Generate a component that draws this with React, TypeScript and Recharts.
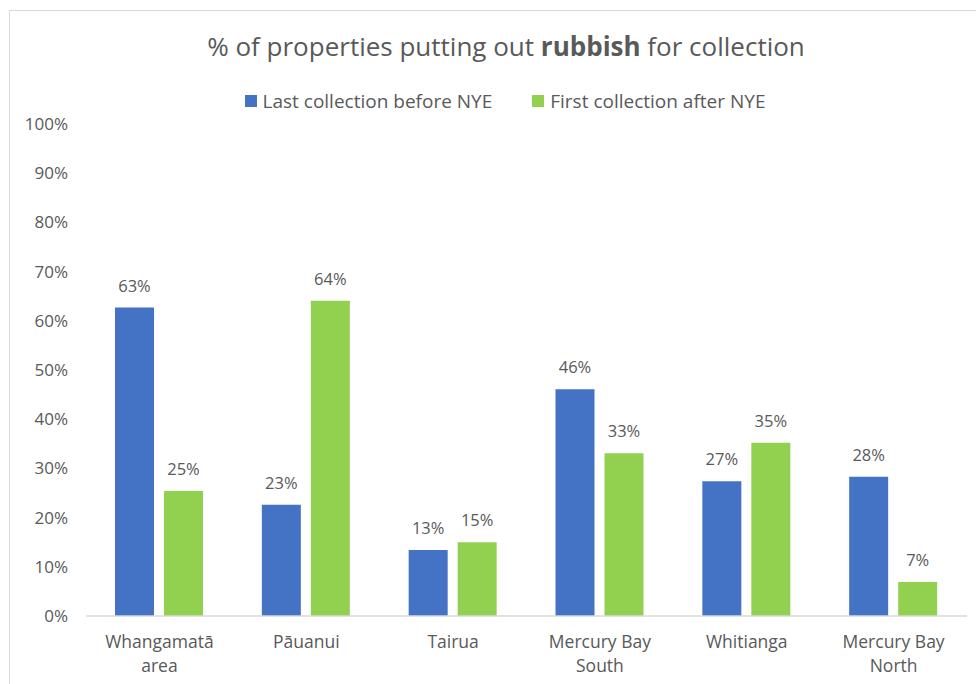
import { BarChart, Bar, XAxis, YAxis, LabelList } from 'recharts';

const categories = ['Whangamatā area', 'Pāuanui', 'Tairua', 'Mercury Bay South', 'Whitianga', 'Mercury Bay North'];
const lastBeforeNYE = [62.7, 22.6, 13.4, 46.1, 27.4, 28.3];
const firstAfterNYE = [25.4, 64.1, 15.0, 33.1, 35.2, 6.9];
const yTicks = [0, 10, 20, 30, 40, 50, 60, 70, 80, 90, 100];

const BLUE = '#4472C4';
const GREEN = '#92D050';
const TEXT = '#595959';
const FONT = '"Open Sans", Lato, sans-serif';

const chartData = categories.map((name, i) => ({
  name,
  last: lastBeforeNYE[i],
  first: firstAfterNYE[i],
}));

// split long category names into two lines, the way Excel wraps them
function wrapLabel(label: string, maxChars = 11) {
  const words = label.split(' ');
  const lines: string[] = [];
  let current = '';
  words.forEach((w) => {
    const next = current ? current + ' ' + w : w;
    if (next.length > maxChars && current) {
      lines.push(current);
      current = w;
    } else {
      current = next;
    }
  });
  if (current) lines.push(current);
  return lines;
}

function CategoryTick({ x, y, payload }: any) {
  const lines = wrapLabel(payload.value);
  return (
    <g transform={`translate(${x},${y})`}>
      {lines.map((line, i) => (
        <text
          key={i}
          x={0}
          y={24 + i * 24}
          textAnchor="middle"
          fill={TEXT}
          fontSize={17.5}
          fontFamily={FONT}
        >
          {line}
        </text>
      ))}
    </g>
  );
}

const pct = (v: any) => `${Math.round(Number(v))}%`;

export default function App() {
  return (
    <div
      style={{
        position: 'fixed',
        left: 0,
        top: 0,
        width: 976,
        height: 684,
        overflow: 'hidden',
        background: '#fff',
        fontFamily: FONT,
      }}
    >
      {/* chart frame */}
      <div
        style={{
          position: 'absolute',
          left: 9,
          top: 10,
          width: 990,
          height: 700,
          border: '1px solid #d9d9d9',
        }}
      />

      {/* Title */}
      <div
        style={{
          position: 'absolute',
          left: 0,
          width: 1012,
          top: 29,
          textAlign: 'center',
          fontSize: 26,
          color: TEXT,
          lineHeight: '34px',
        }}
      >
        % of properties putting out <b>rubbish</b> for collection
      </div>

      {/* Legend */}
      <div
        style={{
          position: 'absolute',
          left: 0,
          width: 1010,
          top: 88,
          display: 'flex',
          justifyContent: 'center',
          gap: 40,
          fontSize: 19,
          color: TEXT,
          lineHeight: '26px',
        }}
      >
        <span style={{ display: 'flex', alignItems: 'center' }}>
          <span style={{ width: 12, height: 12, background: BLUE, marginRight: 6 }} />
          Last collection before NYE
        </span>
        <span style={{ display: 'flex', alignItems: 'center' }}>
          <span style={{ width: 12, height: 12, background: GREEN, marginRight: 6 }} />
          First collection after NYE
        </span>
      </div>

      <div style={{ position: 'absolute', left: 0, top: 0 }}>
        <BarChart
          width={976}
          height={684}
          data={chartData}
          margin={{ top: 124, right: 9, bottom: 0, left: 0 }}
          barSize={39}
          barGap={10}
        >
          <XAxis
            dataKey="name"
            axisLine={{ stroke: '#d9d9d9', strokeWidth: 1.5 }}
            tickLine={false}
            tick={<CategoryTick />}
            interval={0}
            height={68}
          />
          <YAxis
            width={86}
            domain={[0, 100]}
            ticks={yTicks}
            tickFormatter={(v) => `${v}%`}
            axisLine={false}
            tickLine={false}
            tickSize={6}
            tickMargin={12}
            tick={{ fill: TEXT, fontSize: 17, fontFamily: FONT }}
          />
          <Bar dataKey="last" fill={BLUE} isAnimationActive={false}>
            <LabelList
              dataKey="last"
              position="top"
              offset={16}
              formatter={pct}
              fill={TEXT}
              fontSize={16.5}
              fontFamily={FONT}
            />
          </Bar>
          <Bar dataKey="first" fill={GREEN} isAnimationActive={false}>
            <LabelList
              dataKey="first"
              position="top"
              offset={16}
              formatter={pct}
              fill={TEXT}
              fontSize={16.5}
              fontFamily={FONT}
            />
          </Bar>
        </BarChart>
      </div>
    </div>
  );
}
